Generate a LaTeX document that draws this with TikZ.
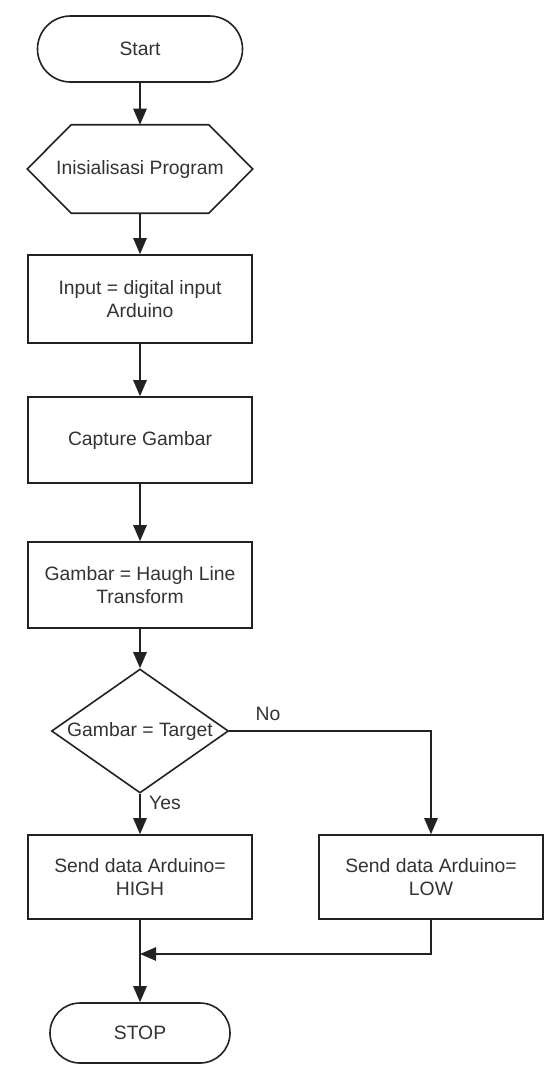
\documentclass[tikz,border=0pt]{standalone}
\usepackage{fontspec}
\setmainfont{Liberation Sans}
\usetikzlibrary{arrows.meta,shapes.geometric,calc}
\definecolor{ink}{HTML}{222222}
\definecolor{txt}{HTML}{333333}
\newdimen\unitsize
\setlength{\unitsize}{0.75pt}

\begin{document}
\begin{tikzpicture}[x=\unitsize,y=-\unitsize,font=\fontsize{14.5}{17.25}\selectfont,text=txt]
\tikzset{box/.style={draw=ink, line width=1.2pt, minimum width=224\unitsize, minimum height=86\unitsize, align=center, inner sep=0pt}}%
\tikzset{terminal/.style={draw=ink, line width=1.2pt, inner sep=0pt}}%
\tikzset{flow/.style={draw=ink, line width=1.2pt, -{Triangle[length=12pt,width=10pt]}}}%
\useasboundingbox[fill=white] (0,0) rectangle (548,1068);
\node[terminal, minimum width=205\unitsize, minimum height=66\unitsize, rounded corners=33\unitsize] (start) at (140,49) {Start};
\node[minimum width=225\unitsize, minimum height=88\unitsize, inner sep=0pt] (init) at (140,169) {Inisialisasi Program};
\draw[ink, line width=1.2pt] (init.west) -- ($(init.north west)+(44,0)$) -- ($(init.north east)+(-44,0)$) -- (init.east) -- ($(init.south east)+(-44,0)$) -- ($(init.south west)+(44,0)$) -- cycle;
\node[box, minimum height=88\unitsize] (input) at (140,299) {Input = digital input\\Arduino};
\node[box] (capture) at (140,440) {Capture Gambar};
\node[box] (hough) at (140,585) {Gambar = Haugh Line\\Transform};
\node[diamond, draw=ink, line width=1.2pt, minimum width=177\unitsize, minimum height=124\unitsize, inner sep=0pt] (cek) at (140,731) {\makebox[0pt]{Gambar = Target}};
\node[box, minimum height=84\unitsize] (high) at (140,877) {Send data Arduino=\\HIGH};
\node[box, minimum height=84\unitsize] (low) at (431,877) {Send data Arduino=\\LOW};
\node[terminal, minimum width=180\unitsize, minimum height=60\unitsize, rounded corners=30\unitsize] (stop) at (140,1033) {STOP};
\node (no) at (268,714) {No};
\node (yes) at (165,803) {Yes};
\coordinate (join) at (140,954);
%\coordinate (turn) at (431,731);
\draw[flow] (start) -- (init);
\draw[flow] (init) -- (input);
\draw[flow] (input) -- (capture);
\draw[flow] (capture) -- (hough);
\draw[flow] (hough) -- (cek);
\draw[flow] (cek.south) -- (high);
\draw[flow] (cek.east) -| (low.north);
\draw[flow] (low.south) |- (join);
\draw[flow] (high) -- (stop);
\end{tikzpicture}
\end{document}
